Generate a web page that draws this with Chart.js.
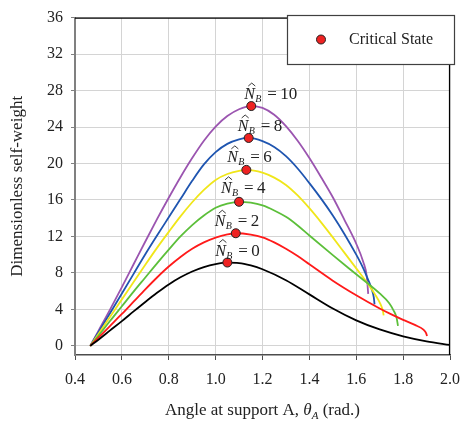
<!DOCTYPE html>
<html>
<head>
<meta charset="utf-8">
<script src="https://cdn.jsdelivr.net/npm/chart.js@4.4.1/dist/chart.umd.min.js"></script>
<style>
  html, body { margin: 0; padding: 0; background: #fff; }
  #wrap { width: 470px; height: 423px; }
</style>
</head>
<body>
<div id="wrap"><canvas id="selfWeightChart" width="470" height="423"></canvas></div>
<script>
// --- data ---
var thetaN0 = [0.465, 0.5, 0.55, 0.6, 0.65, 0.7, 0.75, 0.8, 0.85, 0.9, 0.95, 1.0, 1.05, 1.1, 1.15, 1.2, 1.3, 1.4, 1.5, 1.6, 1.7, 1.8, 1.9, 2.0];
var wN0 = [0, 0.68, 1.7, 2.72, 3.78, 4.82, 5.82, 6.74, 7.52, 8.16, 8.64, 8.96, 9.12, 9.08, 8.82, 8.4, 7.2, 5.65, 4.1, 2.8, 1.8, 1.05, 0.5, 0.1];

var thetaN2 = [0.465, 0.5, 0.55, 0.6, 0.65, 0.7, 0.75, 0.8, 0.85, 0.9, 0.95, 1.0, 1.05, 1.087, 1.15, 1.2, 1.25, 1.3, 1.35, 1.4, 1.5, 1.6, 1.7, 1.75, 1.8, 1.85, 1.888, 1.898, 1.902];
var wN2 = [0, 0.9, 2.2, 3.5, 4.85, 6.2, 7.5, 8.7, 9.75, 10.65, 11.35, 11.88, 12.22, 12.35, 12.2, 11.9, 11.35, 10.65, 9.85, 8.95, 7.15, 5.55, 4.1, 3.45, 2.85, 2.3, 1.75, 1.4, 1.08];

var thetaN4 = [0.465, 0.5, 0.55, 0.6, 0.65, 0.7, 0.75, 0.8, 0.85, 0.9, 0.95, 1.0, 1.05, 1.1, 1.15, 1.2, 1.25, 1.3, 1.35, 1.4, 1.5, 1.6, 1.7, 1.74, 1.76, 1.772, 1.778];
var wN4 = [0, 1.1, 2.75, 4.35, 5.95, 7.5, 9.05, 10.55, 12.0, 13.25, 14.3, 15.15, 15.6, 15.8, 15.7, 15.4, 14.85, 14.15, 13.2, 12.1, 9.95, 7.85, 5.75, 4.7, 3.85, 3.1, 2.2];

var thetaN6 = [0.465, 0.5, 0.55, 0.6, 0.65, 0.7, 0.75, 0.8, 0.85, 0.9, 0.95, 1.0, 1.05, 1.1, 1.131, 1.2, 1.25, 1.3, 1.35, 1.4, 1.45, 1.5, 1.55, 1.6, 1.65, 1.68, 1.703, 1.713, 1.717];
var wN6 = [0, 1.3, 3.2, 5.1, 7.0, 8.9, 10.75, 12.5, 14.2, 15.75, 17.1, 18.2, 18.85, 19.2, 19.3, 19.0, 18.45, 17.65, 16.5, 15.1, 13.55, 11.9, 10.2, 8.5, 6.8, 5.65, 4.6, 3.9, 3.35];

var thetaN8 = [0.465, 0.5, 0.55, 0.6, 0.65, 0.7, 0.75, 0.8, 0.85, 0.9, 0.95, 1.0, 1.05, 1.1, 1.141, 1.2, 1.25, 1.3, 1.35, 1.4, 1.45, 1.5, 1.55, 1.6, 1.63, 1.65, 1.665, 1.675, 1.678];
var wN8 = [0, 1.5, 3.6, 5.75, 7.9, 10.05, 12.1, 14.1, 16.1, 18.1, 19.9, 21.25, 22.15, 22.65, 22.8, 22.45, 21.8, 20.8, 19.45, 17.85, 16.15, 14.3, 12.25, 10.0, 8.5, 7.3, 6.3, 5.3, 4.55];

var thetaN10 = [0.465, 0.5, 0.55, 0.6, 0.65, 0.7, 0.75, 0.8, 0.85, 0.9, 0.95, 1.0, 1.05, 1.1, 1.152, 1.2, 1.25, 1.3, 1.35, 1.4, 1.45, 1.5, 1.55, 1.6, 1.63, 1.645, 1.651];
var wN10 = [0, 1.65, 4.0, 6.45, 8.95, 11.45, 13.9, 16.25, 18.5, 20.6, 22.5, 24.05, 25.2, 25.95, 26.3, 26.1, 25.35, 24.1, 22.5, 20.6, 18.5, 16.3, 13.8, 11.2, 9.2, 7.6, 5.7];

// critical states (peaks)
var criticalTheta = [1.050, 1.086, 1.100, 1.131, 1.141, 1.152];
var criticalW = [9.14, 12.35, 15.8, 19.3, 22.8, 26.3];
var nbValues = [0, 2, 4, 6, 8, 10];

var yTickValues = [0, 4, 8, 12, 16, 20, 24, 28, 32, 36];

var serif = "'Liberation Serif', 'Times New Roman', serif";

function toPoints(xs, ys) {
    return xs.map(function (x, i) { return { x: x, y: ys[i] }; });
}

function curve(xs, ys, color) {
    return {
        data: toPoints(xs, ys),
        borderColor: color,
        borderWidth: 1.8,
        pointRadius: 0,
        fill: false,
        cubicInterpolationMode: 'monotone',
        order: 1
    };
}

// N_B labels next to each critical point: pixel offset of the "N" from the marker
var labelOffsets = [[-12, -7], [-21, -7], [-18, -9], [-19, -8], [-11, -7], [-7, -7]];

var decorPlugin = {
    id: 'decor',
    afterDatasetsDraw: function (chart) {
        var ctx = chart.ctx;
        var area = chart.chartArea;
        var xs = chart.scales.x, ys = chart.scales.y;
        ctx.save();

        // top & right frame
        ctx.strokeStyle = '#000';
        ctx.lineWidth = 1.2;
        ctx.beginPath();
        ctx.moveTo(area.left, area.top + 0.5);
        ctx.lineTo(area.right - 0.5, area.top + 0.5);
        ctx.lineTo(area.right - 0.5, area.bottom);
        ctx.stroke();

        // curve labels
        ctx.fillStyle = '#222';
        ctx.strokeStyle = '#222';
        ctx.textBaseline = 'alphabetic';
        ctx.textAlign = 'left';
        for (var i = 0; i < criticalTheta.length; i++) {
            var px = xs.getPixelForValue(criticalTheta[i]) + labelOffsets[i][0];
            var py = ys.getPixelForValue(criticalW[i]) + labelOffsets[i][1];
            ctx.font = 'italic 16px ' + serif;
            ctx.fillText('N', px, py);
            // hat over the N
            ctx.lineWidth = 0.9;
            ctx.beginPath();
            ctx.moveTo(px + 4, py - 13);
            ctx.lineTo(px + 7.5, py - 16);
            ctx.lineTo(px + 11, py - 13);
            ctx.stroke();
            ctx.font = 'italic 10px ' + serif;
            ctx.fillText('B', px + 11, py + 3);
            ctx.font = '17px ' + serif;
            ctx.fillText('=', px + 23, py);
            ctx.fillText(String(nbValues[i]), px + 36, py);
        }

        // legend box
        ctx.fillStyle = '#fff';
        ctx.fillRect(287.5, 15.5, 167, 49);
        ctx.strokeStyle = '#404040';
        ctx.lineWidth = 1.2;
        ctx.strokeRect(287.5, 15.5, 167, 49);
        ctx.lineWidth = 1;
        ctx.beginPath();
        ctx.arc(321, 39.5, 4.5, 0, Math.PI * 2);
        ctx.fillStyle = '#ee2222';
        ctx.fill();
        ctx.strokeStyle = '#222';
        ctx.stroke();
        ctx.fillStyle = '#222';
        ctx.font = '16px ' + serif;
        ctx.textAlign = 'left';
        ctx.textBaseline = 'middle';
        ctx.fillText('Critical State', 349, 40);

        // x axis title with italic theta and subscript A
        var parts = [
            { t: 'Angle at support A, ', f: '17px ' + serif, dy: 0 },
            { t: '\u03B8', f: 'italic 17px ' + serif, dy: 0 },
            { t: 'A', f: 'italic 11px ' + serif, dy: 4 },
            { t: ' (rad.)', f: '17px ' + serif, dy: 0 }
        ];
        var total = 0;
        parts.forEach(function (p) { ctx.font = p.f; p.w = ctx.measureText(p.t).width; total += p.w; });
        var cx = (area.left + area.right) / 2 - total / 2;
        ctx.textBaseline = 'alphabetic';
        ctx.fillStyle = '#222';
        parts.forEach(function (p) { ctx.font = p.f; ctx.fillText(p.t, cx, 415 + p.dy); cx += p.w; });

        ctx.restore();
    }
};

new Chart(document.getElementById('selfWeightChart'), {
    type: 'line',
    data: {
        datasets: [
            {
                label: 'Critical State',
                data: toPoints(criticalTheta, criticalW),
                showLine: false,
                pointRadius: 4.5,
                pointBackgroundColor: '#ee2222',
                pointBorderColor: '#222',
                pointBorderWidth: 1,
                order: 0
            },
            curve(thetaN0, wN0, '#000000'),
            curve(thetaN2, wN2, '#ff1a1a'),
            curve(thetaN4, wN4, '#5cbf3a'),
            curve(thetaN6, wN6, '#f0e61a'),
            curve(thetaN8, wN8, '#1f55b0'),
            curve(thetaN10, wN10, '#9b55b0')
        ]
    },
    options: {
        responsive: false,
        animation: false,
        layout: { padding: { top: 13, right: 12, left: 0, bottom: 0 } },
        plugins: {
            legend: { display: false },
            tooltip: { enabled: false }
        },
        scales: {
            x: {
                type: 'linear',
                min: 0.4, max: 2.0,
                border: { color: '#4d4d4d', width: 1.5 },
                grid: { color: '#d4d4d4', lineWidth: 1, tickLength: 5, tickColor: '#4d4d4d' },
                ticks: {
                    stepSize: 0.2, padding: 10, color: '#222',
                    font: { family: serif, size: 16 },
                    callback: function (v) { return Number(v).toFixed(1); }
                },
                afterFit: function (scale) { scale.height = 68; }
            },
            y: {
                min: -1, max: 36,
                border: { color: '#808080', width: 2 },
                grid: { color: '#d4d4d4', lineWidth: 1, tickLength: 4, tickColor: '#808080' },
                ticks: { padding: 8, color: '#222', font: { family: serif, size: 16 } },
                afterBuildTicks: function (scale) {
                    scale.ticks = yTickValues.map(function (v) { return { value: v }; });
                },
                title: {
                    display: true, text: 'Dimensionless self-weight', color: '#222',
                    font: { family: serif, size: 17 }, padding: { top: 7, bottom: 0 }
                },
                afterFit: function (scale) { scale.width = 75; }
            }
        }
    },
    plugins: [decorPlugin]
});
</script>
</body>
</html>
